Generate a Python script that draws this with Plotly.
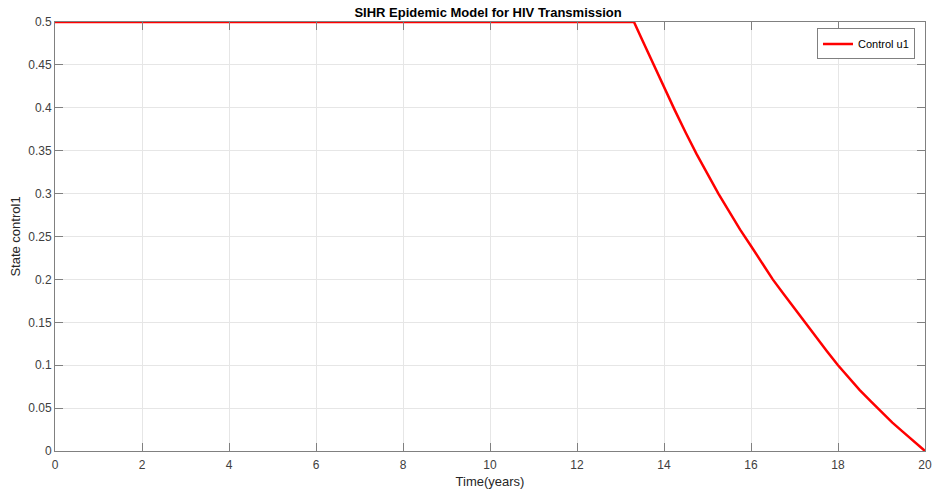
import plotly.graph_objects as go

# Data
time_years = [0, 13.31, 13.5, 13.75, 14.0, 14.25, 14.5, 14.75, 15.0, 15.25, 15.5, 15.75,
              16.0, 16.25, 16.5, 16.75, 17.0, 17.25, 17.5, 17.75, 18.0, 18.25, 18.5,
              18.75, 19.0, 19.25, 19.5, 19.75, 20.0]
control_u1 = [0.5, 0.5, 0.479, 0.451, 0.425, 0.397, 0.371, 0.346, 0.323, 0.300, 0.279, 0.258,
              0.239, 0.219, 0.200, 0.183, 0.166, 0.150, 0.133, 0.116, 0.100, 0.085, 0.071,
              0.058, 0.045, 0.033, 0.022, 0.011, 0.0]

x_ticks = list(range(0, 21, 2))
y_ticks = [0, 0.05, 0.1, 0.15, 0.2, 0.25, 0.3, 0.35, 0.4, 0.45, 0.5]
y_tick_text = ["0", "0.05", "0.1", "0.15", "0.2", "0.25", "0.3", "0.35", "0.4", "0.45", "0.5"]

FONT = "Liberation Sans, Arial, sans-serif"

fig = go.Figure()
fig.add_trace(go.Scatter(
    x=time_years, y=control_u1, mode="lines", name="Control u1",
    line=dict(color="#ff0000", width=2.5),
))

axis_common = dict(
    showline=True, linecolor="#808080", linewidth=1, mirror="allticks",
    ticks="inside", ticklen=8, tickcolor="#808080", tickwidth=1,
    showgrid=True, gridcolor="#e6e6e6", gridwidth=1, zeroline=False,
    automargin=False,
    tickfont=dict(family=FONT, size=12, color="#404040"),
)

fig.update_layout(
    width=935, height=493,
    margin=dict(l=55, r=10, t=22, b=42, autoexpand=False),
    paper_bgcolor="white", plot_bgcolor="white",
    title=dict(text="<b>SIHR Epidemic Model for HIV Transmission</b>",
               x=0.522, xanchor="center", y=0.975, yanchor="middle",
               font=dict(family=FONT, size=13, color="#000000")),
    xaxis=dict(range=[0, 20], tickvals=x_ticks, ticklabelstandoff=3,
               title=dict(text="Time(years)", standoff=5,
                          font=dict(family=FONT, size=13, color="#262626")),
               **axis_common),
    yaxis=dict(range=[0, 0.5], tickvals=y_ticks, ticktext=y_tick_text,
               title=dict(text="State control1", standoff=4,
                          font=dict(family=FONT, size=13, color="#262626")),
               **axis_common),
    showlegend=True,
    legend=dict(x=0.9885, xanchor="right", y=0.985, yanchor="top",
                bordercolor="#808080", borderwidth=1, bgcolor="white",
                font=dict(family=FONT, size=11, color="#000000"),
                itemwidth=30, tracegroupgap=0),
)

fig.write_html(
    "out.html",
    config={"displayModeBar": False},
    post_script="document.body.style.margin='0';document.body.style.overflow='hidden';",
)
